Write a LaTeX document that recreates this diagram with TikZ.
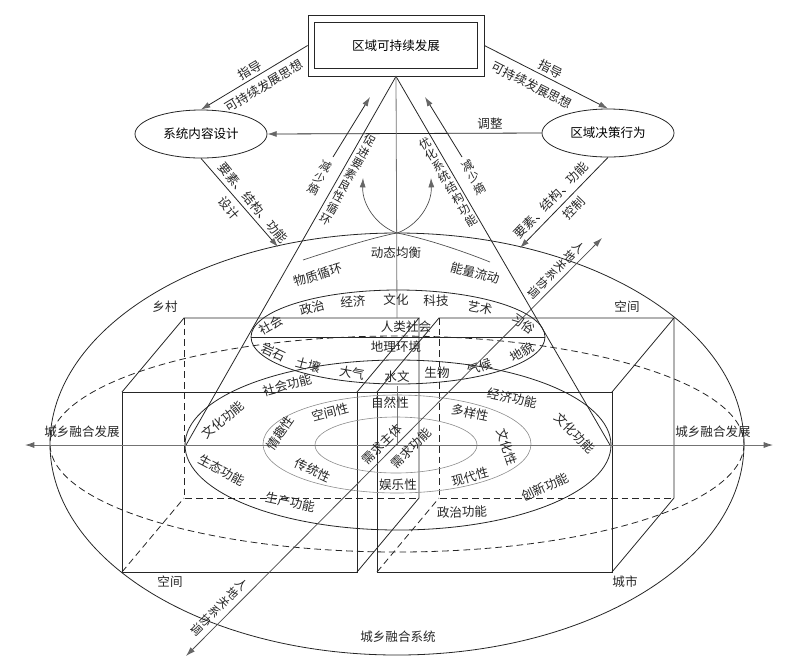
\documentclass[tikz,border=0pt]{standalone}
\usepackage{fontspec}
\setmainfont{Noto Sans CJK SC}
\usetikzlibrary{arrows.meta,shapes.geometric}
\begin{document}
\begin{tikzpicture}[x=0.75pt,y=-0.75pt,
  ln/.style={line width=0.6pt, draw=black!85},
  gl/.style={line width=0.6pt, draw=black!55},
  gll/.style={line width=0.45pt, draw=black!45},
  dsh/.style={line width=0.6pt, draw=black!85, dash pattern=on 5pt off 3pt},
  tip/.style={-{Latex[length=7pt,width=4.5pt,color=black!60]}},
  tips/.style={{Latex[length=7pt,width=4.5pt,color=black!60]}-{Latex[length=7pt,width=4.5pt,color=black!60]}},
  lbl/.style={font=\fontsize{9.4}{11}\selectfont, inner sep=0pt, text=black!85},
  vt/.style={inner sep=0pt, text=black!85, align=center, font=\fontsize{8.8}{9.6}\selectfont},
  ell/.style={ellipse, draw, line width=0.6pt, draw=black!85, inner sep=0pt, minimum width=99pt, minimum height=36pt, font=\fontsize{9.4}{11}\selectfont},
]
\useasboundingbox (0,0) rectangle (809,669);

% ---------- big ellipses
\draw[ln] (397,444) ellipse [x radius=347, y radius=211];
\draw[dsh] (397,444) ellipse [x radius=347, y radius=108];

% ---------- boxes
\foreach \s in {0,255}{
\begin{scope}[shift={(\s,0)}]
\draw[ln] (122,392) rectangle (357,572);
\draw[ln] (122,392) -- (184,318) -- (419,318) -- (357,392);
\draw[ln] (357,572) -- (419,498) -- (419,318);
\draw[dsh] (184,318) -- (184,498) -- (419,498);
\draw[dsh] (122,572) -- (184,498);
\end{scope}}
\draw[ln] (357,392) -- (377,392);

% ---------- ellipses inside
\draw[ln] (398,445) ellipse [x radius=213, y radius=85];
\draw[ln] (398,337) ellipse [x radius=147, y radius=47];
\draw[ln] (251,337) -- (545,337);
\draw[gll] (397,444) ellipse [x radius=134, y radius=49];
\draw[gll] (396,445) ellipse [x radius=81, y radius=28];

% ---------- axes
\draw[gl,tips] (25,445) -- (773,445);
\draw[line width=0.6pt, draw=black!70, tips] (186,656) -- (602,238);

% ---------- top nodes
\node[draw=black!85, line width=0.6pt, minimum width=132pt, minimum height=45.75pt, inner sep=0pt, font=\fontsize{9.4}{11}\selectfont] (goal) at (396,45.5) {区域可持续发展};
\draw[ln] ([shift={(7,8)}]goal.north west) rectangle ([shift={(-7,-8)}]goal.south east);
\node[ell] (design) at (201,134) {系统内容设计};
\node[ell] (decision) at (608,133) {区域决策行为};
\coordinate (apex) at (goal.south);
\coordinate (e1) at (278,247);
\coordinate (e2) at (520,248);

\draw[ln,tip] (goal.west) -- (design.north);
\draw[ln,tip] (goal.east) -- (decision.north);
\draw[ln,tip] (decision.west) -- (design.east);
\draw[ln,tip] (design.south) -- (e1);
\draw[ln,tip] (decision.south) -- (e2);

% cone
\draw[ln] (186,445) -- (apex) -- (610,445);
\draw[gl] (apex) -- (397,318);
\draw[gl] (397,386) -- (397,445);

% entropy arrows
\coordinate (s1) at (333,157); \coordinate (t1) at (370,97);
\coordinate (s2) at (462,157); \coordinate (t2) at (425,97);
\draw[ln,tip] (s1) -- (t1);
\draw[ln,tip] (s2) -- (t2);

% flows
\draw[line width=0.5pt, draw=black!70, tip] (303,260) .. controls (345,246) and (380,236) .. (397,233) .. controls (417,226) and (432,205) .. (431,178);
\draw[line width=0.5pt, draw=black!70, tip] (490,262) .. controls (450,246) and (414,236) .. (397,233) .. controls (377,226) and (362,205) .. (363,178);

% ---------- labels: top
\node[lbl, rotate=31] (l1) at (250,70) {指导};
\node[lbl, rotate=31] (l2) at (264,86) {可持续发展思想};
\node[lbl, rotate=-27] (l3) at (551,69) {指导};
\node[lbl, rotate=-27] (l4) at (532,85) {可持续发展思想};
\node[lbl] (l5) at (490,124) {调整};
\node[lbl, rotate=-50] (l6) at (253,203) {要素、结构、功能};
\node[lbl, rotate=-50] (l7) at (229,208) {设计};
\node[lbl, rotate=46] (l8) at (551,200) {要素、结构、功能};
\node[lbl, rotate=46] (l9) at (574,208) {控制};
\node[vt, rotate=-27] (l10) at (320,178) {减\\少\\熵};
\node[vt, rotate=27] (l11) at (474,177) {减\\少\\熵};
\node[vt, rotate=-29] (l12) at (348,180) {促\\进\\要\\素\\良\\性\\循\\环};
\node[vt, rotate=31] (l13) at (448,182) {优\\化\\系\\统\\结\\构\\功\\能};
\node[lbl] (l14) at (396,253) {动态均衡};
\node[lbl, rotate=17] (l15) at (318,275) {物质循环};
\node[lbl, rotate=-15] (l16) at (475,273) {能量流动};
\node[vt, rotate=-45] (l17) at (556,270) {人\\地\\关\\系\\协\\调};
\node[vt, rotate=-45] (l18) at (219,607) {人\\地\\关\\系\\协\\调};

% ---------- upper ellipse labels
\node[lbl, rotate=30] (u1) at (271,325) {社会};
\node[lbl, rotate=15] (u2) at (312,308) {政治};
\node[lbl, rotate=5] (u3) at (353,302) {经济};
\node[lbl] (u4) at (396,300) {文化};
\node[lbl] (u5) at (436,301) {科技};
\node[lbl, rotate=-10] (u6) at (480,308) {艺术};
\node[lbl, rotate=-35] (u7) at (523,324) {习俗};
\node[lbl] (u8) at (406,327) {人类社会};
\node[lbl] (u9) at (396,347) {地理环境};
\node[lbl, rotate=-25] (u10) at (274,352) {岩石};
\node[lbl, rotate=-15] (u11) at (308,365) {土壤};
\node[lbl, rotate=-10] (u12) at (352,373) {大气};
\node[lbl] (u13) at (397,377) {水文};
\node[lbl] (u14) at (437,373) {生物};
\node[lbl, rotate=20] (u15) at (480,367) {气候};
\node[lbl, rotate=30] (u16) at (522,352) {地貌};

% ---------- middle ellipse labels
\node[lbl, rotate=15] (m1) at (287,385) {社会功能};
\node[lbl, rotate=40] (m2) at (223,420) {文化功能};
\node[lbl, rotate=-28] (m3) at (222,470) {生态功能};
\node[lbl, rotate=-12] (m4) at (290,502) {生产功能};
\node[lbl, rotate=-12] (m5) at (512,398) {经济功能};
\node[lbl, rotate=-45] (m6) at (575,433) {文化功能};
\node[lbl, rotate=25] (m7) at (545,487) {创新功能};
\node[lbl, rotate=2] (m8) at (462,512) {政治功能};
\node[lbl, rotate=15] (m9) at (330,412) {空间性};
\node[lbl, rotate=55] (m10) at (280,433) {情趣性};
\node[lbl, rotate=-25] (m11) at (313,470) {传统性};
\node[lbl] (m12) at (390,403) {自然性};
\node[lbl] (m13) at (398,485) {娱乐性};
\node[lbl, rotate=-12] (m14) at (470,413) {多样性};
\node[lbl, rotate=15] (m15) at (470,477) {现代性};
\node[lbl, rotate=-72] (m16) at (507,447) {文化性};
\node[lbl, rotate=45] (m17) at (382,444) {需求主体};
\node[lbl, rotate=45] (m18) at (411,448) {需求功能};

% ---------- outer labels
\node[lbl] (o1) at (82,432) {城乡融合发展};
\node[lbl] (o2) at (713,432) {城乡融合发展};
\node[lbl] (o3) at (165,307) {乡村};
\node[lbl] (o4) at (627,307) {空间};
\node[lbl] (o5) at (170,582) {空间};
\node[lbl] (o6) at (625,582) {城市};
\node[lbl] (o7) at (398,637) {城乡融合系统};
\end{tikzpicture}
\end{document}
